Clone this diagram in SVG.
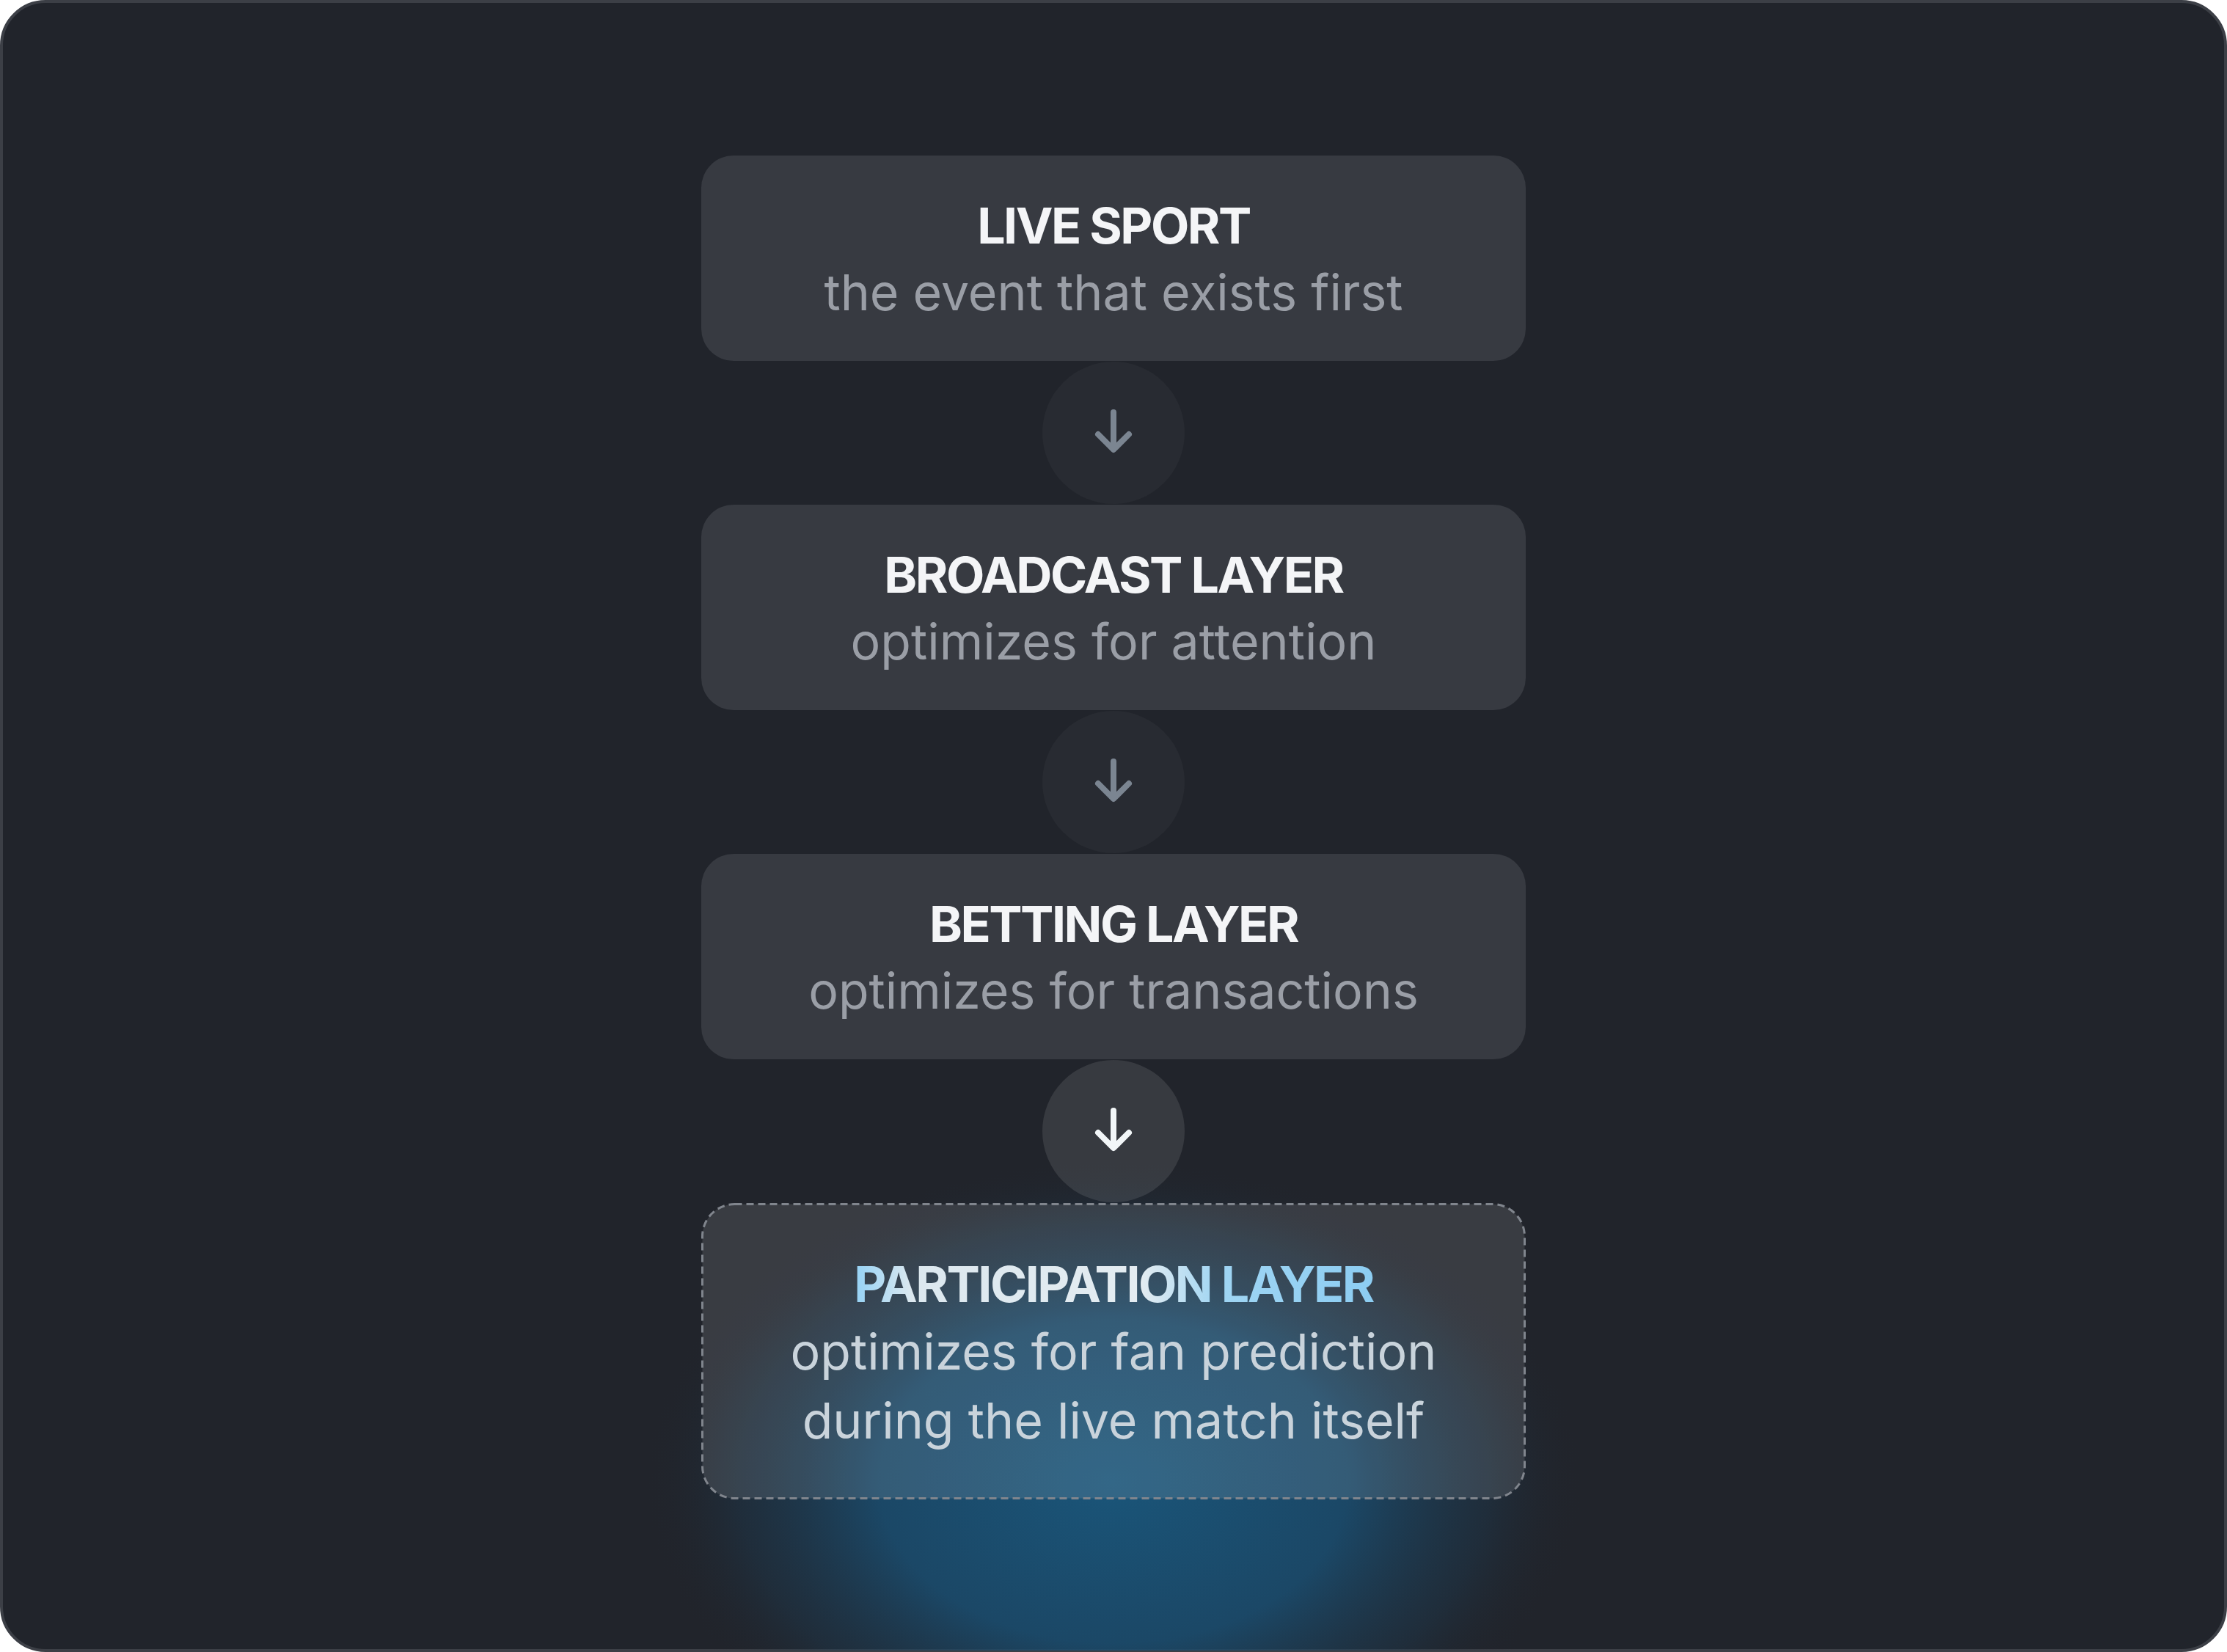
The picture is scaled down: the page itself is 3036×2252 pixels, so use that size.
<svg xmlns="http://www.w3.org/2000/svg" width="3036" height="2252" viewBox="0 0 3036 2252">
  <style>
    .box { fill: #373a41; }
    .title { font-family: Inter, "Liberation Sans", sans-serif; font-weight: 700; font-size: 68px; fill: #f4f5f7; text-anchor: middle; letter-spacing: -2.5px; }
    .sub { font-family: Inter, "Liberation Sans", sans-serif; font-weight: 400; font-size: 68px; fill: #9a9ea6; text-anchor: middle; letter-spacing: 0px; }
    .sub4 { fill: #c9d3db; }
    .circ { fill: #ffffff; fill-opacity: 0.035; }
    .arrow { fill: none; stroke: #7b8591; stroke-width: 8; stroke-linecap: round; stroke-linejoin: round; }
  </style>
  <defs>
    <radialGradient id="glow" cx="0.5" cy="0.5" r="0.5">
      <stop offset="0" stop-color="#1a5579" stop-opacity="1"/>
      <stop offset="0.5" stop-color="#1a4e71" stop-opacity="0.85"/>
      <stop offset="0.8" stop-color="#1d3b52" stop-opacity="0.4"/>
      <stop offset="1" stop-color="#21242b" stop-opacity="0"/>
    </radialGradient>
    <linearGradient id="titleGrad" x1="1158" y1="0" x2="1878" y2="0" gradientUnits="userSpaceOnUse">
      <stop offset="0" stop-color="#8fd0f5"/>
      <stop offset="0.12" stop-color="#dce8ef"/>
      <stop offset="0.55" stop-color="#e4ecf1"/>
      <stop offset="0.7" stop-color="#9fd5f3"/>
      <stop offset="1" stop-color="#8ccdf2"/>
    </linearGradient>
    <clipPath id="frame">
      <rect x="2" y="2" width="3032" height="2248" rx="60"/>
    </clipPath>
  </defs>

  <rect x="2" y="2" width="3032" height="2248" rx="60" fill="#21242b" stroke="#3c3f46" stroke-width="4"/>
  <g clip-path="url(#frame)">
    <ellipse cx="1518" cy="2020" rx="640" ry="440" fill="url(#glow)"/>
  </g>

  <g id="connectors">
    <circle class="circ" cx="1518" cy="590" r="97"/>
    <path class="arrow" d="M1518 562 V612 M1497 592 L1518 613 L1539 592"/>
    <circle class="circ" cx="1518" cy="1066" r="97"/>
    <path class="arrow" d="M1518 1038 V1088 M1497 1068 L1518 1089 L1539 1068"/>
    <circle cx="1518" cy="1542" r="97" fill="#ffffff" fill-opacity="0.1"/>
    <path class="arrow" style="stroke:#f2f6f8" d="M1518 1514 V1564 M1497 1544 L1518 1565 L1539 1544"/>
  </g>

  <g id="live-sport">
    <rect class="box" x="956" y="212" width="1124" height="280" rx="44"/>
    <text class="title" x="1518" y="332">LIVE SPORT</text>
    <text class="sub" x="1518" y="423">the event that exists first</text>
  </g>

  <g id="broadcast-layer">
    <rect class="box" x="956" y="688" width="1124" height="280" rx="44"/>
    <text class="title" x="1518" y="808">BROADCAST LAYER</text>
    <text class="sub" x="1518" y="899">optimizes for attention</text>
  </g>

  <g id="betting-layer">
    <rect class="box" x="956" y="1164" width="1124" height="280" rx="44"/>
    <text class="title" x="1518" y="1284">BETTING LAYER</text>
    <text class="sub" x="1518" y="1375">optimizes for transactions</text>
  </g>

  <g id="participation-layer">
    <rect x="957.5" y="1641.5" width="1121" height="401" rx="44" fill="#ffffff" fill-opacity="0.11" stroke="#80858d" stroke-width="3" stroke-dasharray="10 6"/>
    <text class="title" x="1518" y="1775" style="fill:url(#titleGrad)">PARTICIPATION LAYER</text>
    <text class="sub sub4" x="1518" y="1867">optimizes for fan prediction</text>
    <text class="sub sub4" x="1518" y="1961">during the live match itself</text>
  </g>
</svg>
